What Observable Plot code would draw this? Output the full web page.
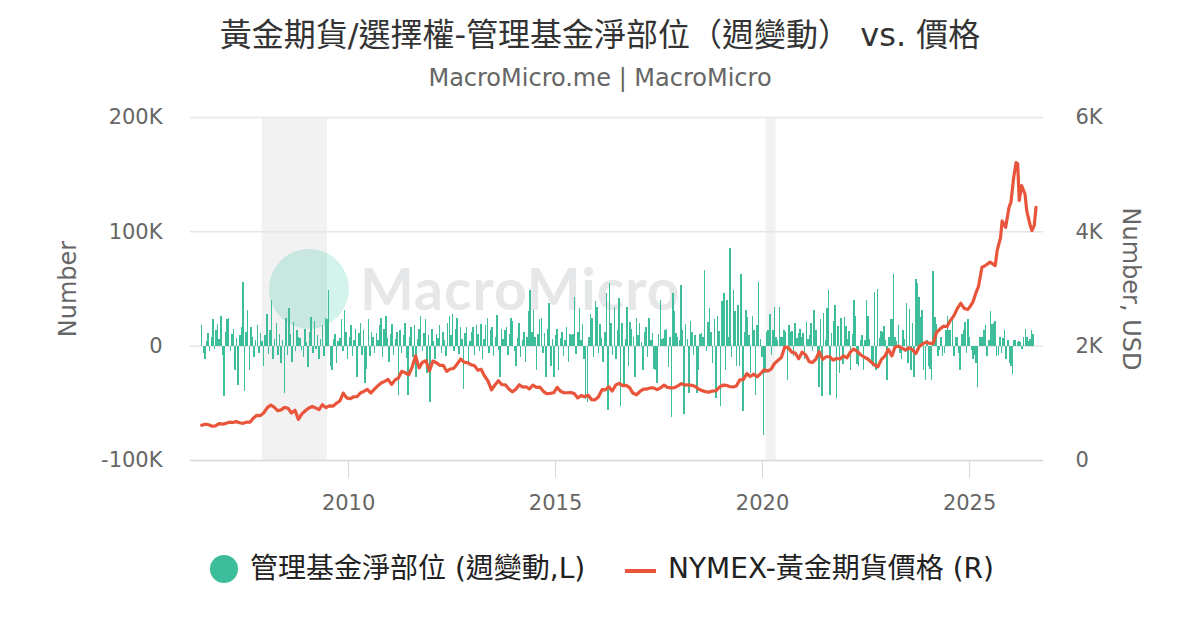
<!DOCTYPE html>
<html><head><meta charset="utf-8">
<script src="https://cdn.jsdelivr.net/npm/d3@7"></script>
<script src="https://cdn.jsdelivr.net/npm/@observablehq/plot@0.6"></script>
<style>
body{margin:0;background:#fff;width:1200px;height:630px;overflow:hidden;position:relative;font-family:"DejaVu Sans","Noto Sans CJK TC",sans-serif;}
#title{position:absolute;top:9px;left:0;width:1200px;text-align:center;font-size:32px;color:#333;}
#sub{position:absolute;top:64px;left:0;width:1200px;text-align:center;font-size:24px;color:#666;}
#chart{position:absolute;top:100px;left:0;}
#wm{position:absolute;left:269px;top:249px;width:80px;height:80px;border-radius:50%;background:#d3f4ec;}
#wmt{position:absolute;left:360px;top:254px;font-size:57px;font-weight:700;color:#e6e7e8;font-family:Lato,sans-serif;letter-spacing:1px;}
#legend{position:absolute;top:550px;left:0;width:1200px;height:40px;font-size:28px;color:#222;}
.li{position:absolute;top:0px;white-space:nowrap;line-height:38px;}
</style></head>
<body>
<div id="title">黃金期貨/選擇權-管理基金淨部位（週變動） vs. 價格</div>
<div id="sub">MacroMicro.me | MacroMicro</div>
<div id="wm"></div><div id="wmt">MacroMicro</div>
<div id="chart"></div>
<div id="legend">
  <div style="position:absolute;left:210px;top:5px;width:28px;height:28px;border-radius:50%;background:#3dbd9a"></div>
  <div class="li" style="left:250px">管理基金淨部位 (週變動,L)</div>
  <div style="position:absolute;left:625px;top:19px;width:31px;height:4px;background:#e9553b"></div>
  <div class="li" style="left:668px">NYMEX-黃金期貨價格 (R)</div>
</div>
<script>
// Weekly-change bars (thousand contracts), sampled every two weeks from 2006-06-13
const bars2006 = [18,-6,-12,4,11,-5,8,23,-3,14,19,6,26,-8,-44,12,23,24,-5,10,15,-21,7,-34,9,16];
const bars2007 = [56,-40,12,31,-21,16,8,-10,5,18,-6,11,4,-18,9,28,-7,14,40,-12,6,20,-8,10,-15,5];
const bars2008 = [-41,24,-8,33,10,-14,21,-5,14,8,7,-4,-10,15,3,-19,12,25,-6,22,-3,9,-12,6,18,-9];
const bars2009 = [24,23,49,-18,-21,6,10,-15,4,7,23,-5,31,12,-12,8,18,-9,5,15,-27,11,20,-8,14,-33];
const bars2010 = [-20,23,-9,12,8,-6,11,5,18,24,-10,15,26,7,-14,10,19,-8,6,12,-43,14,-6,9,20,-11];
const bars2011 = [-43,8,16,-10,18,-27,6,15,26,-5,11,23,-24,9,-49,15,4,-12,10,7,18,-6,12,5,-9,20];
const bars2012 = [26,9,28,-5,15,24,-7,16,6,-38,11,16,-15,4,12,16,-8,18,10,-5,19,-12,6,18,24,-6];
const bars2013 = [14,16,-9,8,27,-4,-27,15,6,14,16,-8,10,24,22,-5,-18,7,20,-10,5,12,-14,8,30,49];
const bars2014 = [12,31,8,-21,10,23,24,-6,11,-27,15,37,-18,6,-27,9,15,-21,7,12,-9,5,16,-14,10,9];
const bars2015 = [10,43,-7,12,33,5,19,-12,-47,-49,8,28,24,-10,39,34,-6,19,7,-14,12,46,-56,55,20,-8];
const bars2016 = [34,-12,14,42,-53,20,-35,6,34,-18,21,15,8,-27,24,9,20,3,-21,12,16,-10,24,5,11,-20];
const bars2017 = [-21,-33,10,40,6,7,14,15,-19,8,-62,46,30,11,8,5,53,14,-60,19,6,-41,22,12,-8,9];
const bars2018 = [-41,-21,10,11,8,66,-5,21,33,12,-15,23,-46,26,13,-53,39,46,-21,40,8,85,-10,49,30,-18];
const bars2019 = [36,-18,63,-57,12,31,25,9,-24,26,14,-43,18,56,6,-10,-78,-24,12,14,28,-8,14,34,8,5];
const bars2020 = [34,8,8,14,12,-30,18,12,13,-9,20,7,11,15,8,11,-12,21,6,9,20,-5,31,14,-8,-36];
const bars2021 = [23,-44,29,5,33,49,-43,11,22,36,-46,17,-24,24,-16,25,17,6,13,-21,10,40,26,-16,-18,5];
const bars2022 = [9,-21,5,40,26,6,-15,-18,47,-21,50,7,13,12,17,5,-30,8,23,23,63,8,4,18,-6,-12];
const bars2023 = [14,6,37,-15,32,-21,20,-27,58,55,43,25,31,-21,-30,5,-18,-20,-30,65,25,19,-9,-4,8,-9];
const bars2024 = [-6,14,26,14,14,27,-9,8,8,-6,-21,10,14,21,-6,23,8,-4,-12,-8,-15,-36,8,8,8,14];
const bars2025 = [18,-9,5,30,19,20,22,-9,-8,8,-6,7,14,-12,5,-15,-18,-25,5,5,3,4,3,-3,8,15];
const bars2026 = [8,4,6,14,10];

// Gold futures price (USD), monthly from 2006-06 to 2024-12
const priceMonthly = [
  615,635,625,600,605,645,635,
  650,670,665,680,660,650,670,670,745,790,785,835,
  925,970,935,870,885,930,915,830,880,720,815,870,
  920,945,920,890,975,925,955,950,1000,1040,1180,1095,
  1080,1115,1115,1180,1210,1245,1180,1245,1305,1355,1385,1420,
  1330,1410,1440,1560,1535,1500,1630,1830,1620,1720,1745,1565,
  1740,1710,1665,1665,1560,1600,1610,1685,1775,1720,1710,1675,
  1660,1580,1595,1475,1390,1235,1320,1395,1325,1325,1250,1200,
  1245,1325,1285,1290,1250,1320,1280,1285,1210,1170,1175,1185,
  1280,1210,1185,1185,1190,1170,1095,1135,1115,1140,1065,1060,
  1115,1240,1235,1290,1215,1320,1350,1310,1315,1275,1175,1150,
  1210,1250,1250,1270,1270,1240,1270,1320,1280,1270,1275,1305,
  1345,1320,1325,1315,1300,1250,1225,1205,1195,1215,1220,1280,
  1320,1315,1295,1285,1305,1410,1415,1520,1470,1510,1465,1520,
  1585,1565,1595,1695,1750,1800,1985,1975,1895,1880,1780,1895,
  1850,1730,1715,1770,1905,1770,1815,1815,1755,1785,1775,1830,
  1795,1900,1950,1910,1850,1810,1780,1725,1670,1640,1770,1825,
  1945,1830,1985,2000,1965,1930,1970,1940,1870,1995,2040,2070,
  2050,2050,2240,2300,2350,2340,2450,2530,2660,2750,2660,2640
];
// Recent price points (date, USD)
const priceLateDates = ["2025-01-01","2025-02-01","2025-03-01","2025-03-20","2025-04-20","2025-05-20","2025-07-01","2025-08-15","2025-09-01","2025-10-01","2025-10-15","2025-11-15","2025-12-15","2026-01-01","2026-01-25","2026-02-15","2026-03-01","2026-03-15","2026-04-05","2026-05-05","2026-05-20","2026-06-20","2026-07-05","2026-07-25","2026-08-10"];
const priceLateValues = [2680,2780,2950,3040,3380,3410,3470,3410,3670,3900,4190,4080,4430,4520,4950,5210,5190,4550,4810,4660,4370,4110,4020,4110,4430];

const recessionStart = ["2007-12-01","2020-02-01"];
const recessionEnd = ["2009-06-30","2020-04-30"];

const leftTicks = [-100000,0,100000,200000];
const rightTickLabels = ["0","2K","4K","6K"];
const xTickYears = [2010,2015,2020,2025];

const barValues = [].concat(bars2006,bars2007,bars2008,bars2009,bars2010,bars2011,bars2012,bars2013,bars2014,bars2015,bars2016,bars2017,bars2018,bars2019,bars2020,bars2021,bars2022,bars2023,bars2024,bars2025,bars2026);
const DAY = 864e5;
const t0 = Date.UTC(2006,5,13);
const bars = barValues.map((v,i)=>({start:new Date(t0+i*14*DAY), end:new Date(t0+i*14*DAY+13*DAY), value:v*1000}));
const price = priceMonthly.map((v,i)=>({date:new Date(Date.UTC(2006,5+i,15)), value:v}))
  .concat(priceLateDates.map((d,i)=>({date:new Date(d), value:priceLateValues[i]})));
const rec = recessionStart.map((s,i)=>({start:new Date(s), end:new Date(recessionEnd[i])}));
const toLeft = p => p*50 - 100000; // 0..6000 USD -> -100K..200K

const chart = Plot.plot({
  width:1200, height:420,
  marginTop:17, marginBottom:60, marginLeft:190, marginRight:157,
  style:{fontFamily:"DejaVu Sans, sans-serif", color:"#666", background:"transparent"},
  x:{type:"utc", domain:[new Date("2006-03-08"), new Date("2026-10-15")]},
  y:{domain:[-100000,200000]},
  marks:[
    Plot.rect(rec,{x1:"start",x2:"end",y1:-100000,y2:200000,fill:"#000",fillOpacity:0.05}),
    Plot.ruleY(leftTicks.slice(1),{stroke:"#e6e6e6",strokeWidth:1.5}),
    Plot.rectY(bars,{x1:"start",x2:"end",y:"value",fill:"#3dbd9a",shapeRendering:"crispEdges"}),
    Plot.line(price,{x:"date",y:d=>toLeft(d.value),stroke:"#e9553b",strokeWidth:3.2,strokeLinejoin:"round"}),
    Plot.ruleY([-100000],{stroke:"#d6d6d6",strokeWidth:1.5}),
    Plot.axisX({ticks:xTickYears.map(y=>new Date(Date.UTC(y,0,1))), tickFormat:"%Y", tickSize:18, tickPadding:17, fontSize:21, stroke:"#d6d6d6", label:null}),
    Plot.axisY({anchor:"left", ticks:leftTicks, tickFormat:d=>d===0?"0":(d/1000)+"K", tickSize:0, tickPadding:28, fontSize:21, label:null}),
    Plot.axisY({anchor:"right", ticks:leftTicks, tickFormat:(d,i)=>rightTickLabels[i], tickSize:0, tickPadding:32, fontSize:21, label:null}),
    Plot.text(["Number"],{frameAnchor:"left", dx:-122, rotate:-90, textAnchor:"middle", fontSize:24, fill:"#666"}),
    Plot.text(["Number, USD"],{frameAnchor:"right", dx:87, rotate:90, textAnchor:"middle", fontSize:24, fill:"#666"})
  ]
});
document.getElementById("chart").appendChild(chart);
</script>
</body></html>
